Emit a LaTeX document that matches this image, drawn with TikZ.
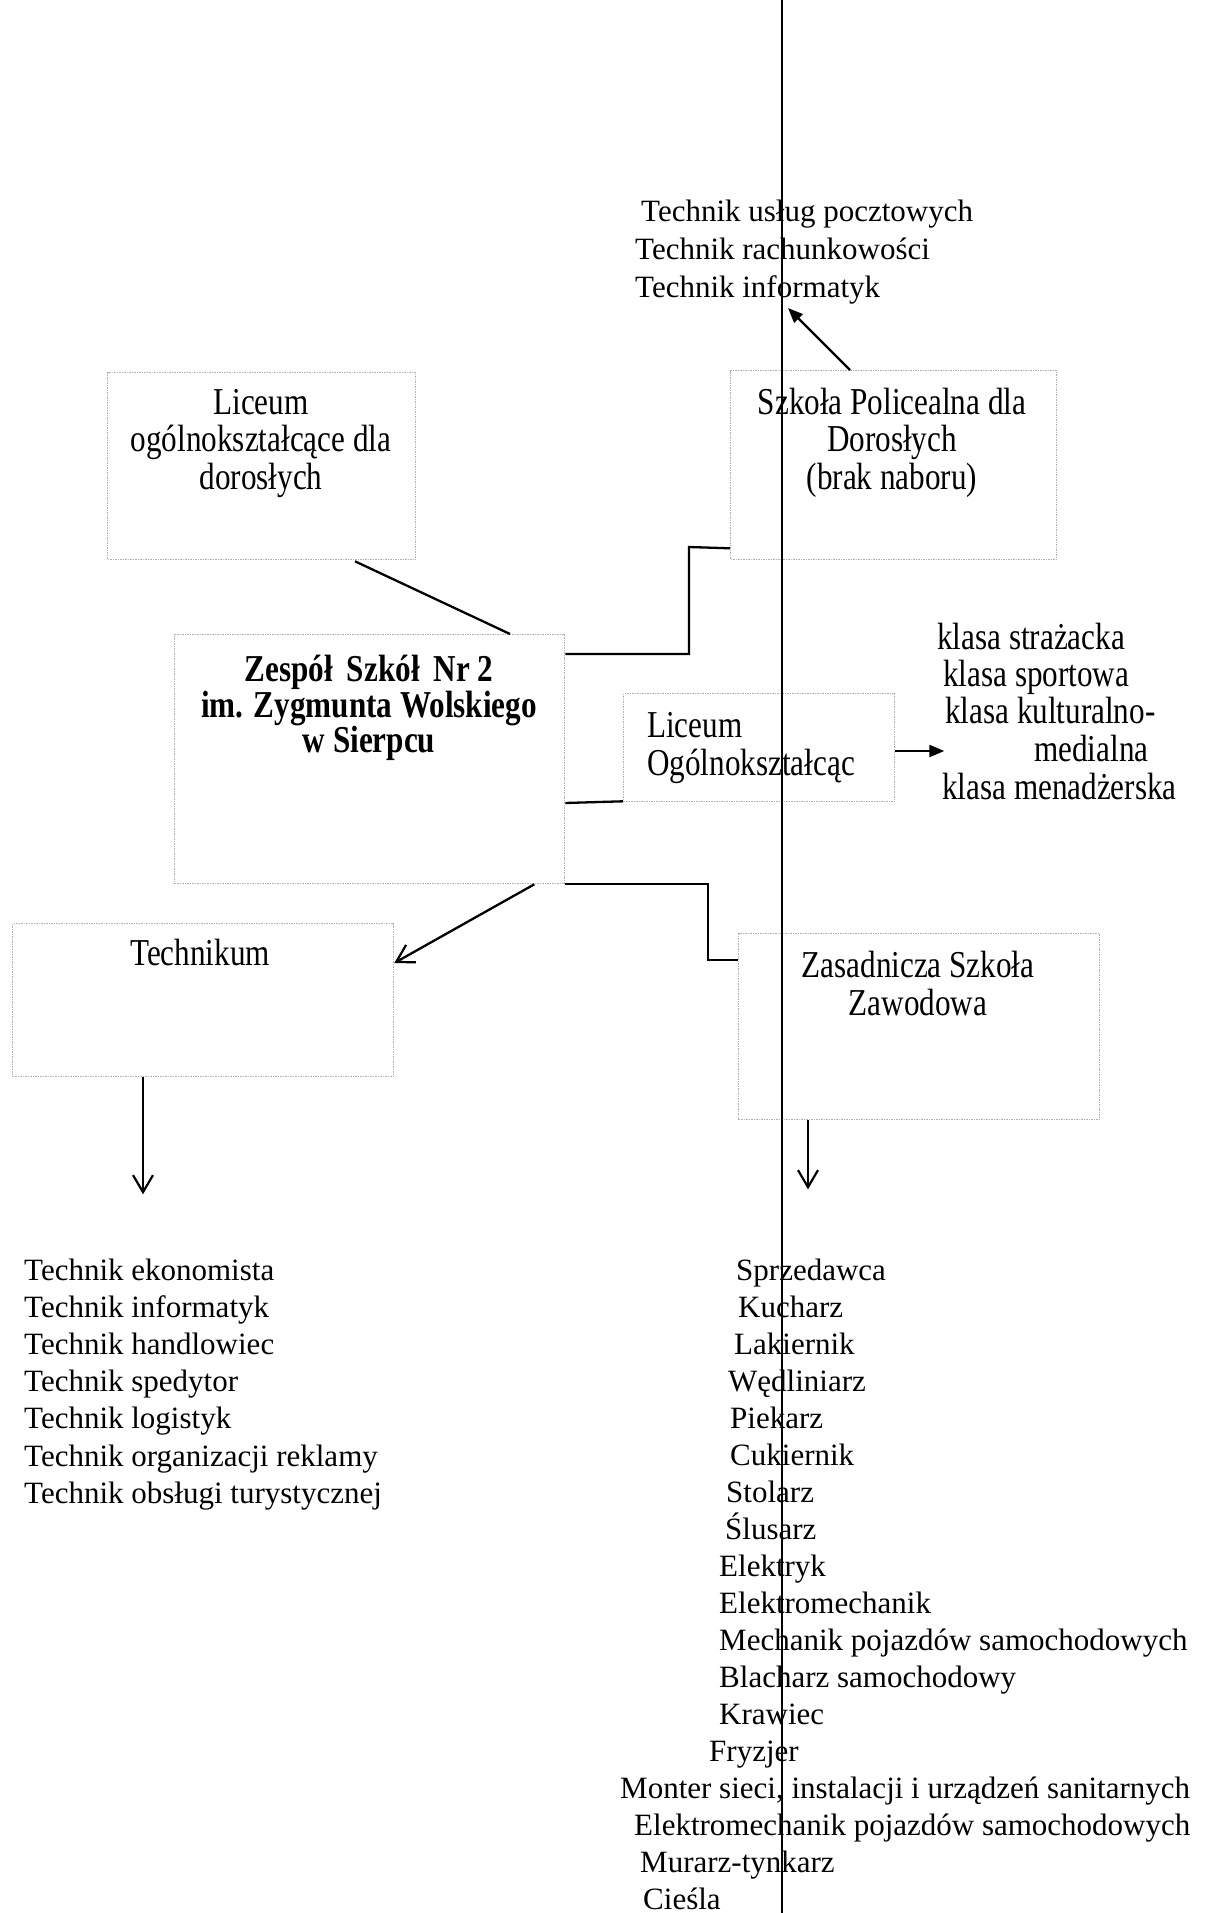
\documentclass[tikz,border=0pt]{standalone}
\usepackage{fontspec}
\setmainfont{Liberation Serif}
\newfontfamily\condfont[FakeStretch=0.82]{Liberation Serif}
\usetikzlibrary{arrows.meta,calc}
\begin{document}
\begin{tikzpicture}[x=1pt,y=-1pt,
  box/.style={draw=black!30, line width=1.3pt, dash pattern=on 1.5pt off 1pt, rectangle, inner sep=0pt, anchor=north west},
  conn/.style={line width=2.3pt},
  opentip/.style={-{Straight Barb[length=17pt,width=20pt,line width=2.2pt]}},
  filltip/.style={-{Triangle[length=15pt,width=12pt]}},
  ctext/.style={inner sep=0pt, font=\condfont\fontsize{38}{37.5}\selectfont},
  btext/.style={inner sep=0pt, font=\condfont\bfseries\fontsize{38}{37.5}\selectfont},
  ltext/.style={inner sep=0pt, anchor=base west, font=\fontsize{31}{37}\selectfont}
]
\useasboundingbox[fill=white] (0,0) rectangle (1204,1913);

% boxes
\node[box, minimum width=308pt, minimum height=187pt] (la) at (107,372) {};
\node[box, minimum width=326pt, minimum height=189pt] (sp) at (730,370) {};
\node[box, minimum width=390pt, minimum height=249pt] (zs) at (174,634) {};
\node[box, minimum width=271pt, minimum height=108pt] (lo) at (623,693) {};
\node[box, minimum width=381pt, minimum height=153pt] (te) at (12,923) {};
\node[box, minimum width=361pt, minimum height=186pt] (zz) at (738,933) {};

% box texts
\node[ctext, anchor=base] (la1) at (261,414) {Liceum};
\node[ctext, anchor=base] (la2) at (261,451.5) {ogólnokształcące dla};
\node[ctext, anchor=base] (la3) at (261,489) {dorosłych};
\node[ctext, anchor=base] (sp1) at (892,414) {Szkoła Policealna dla};
\node[ctext, anchor=base] (sp2) at (892,451.5) {Dorosłych};
\node[ctext, anchor=base] (sp3) at (892,489) {(brak naboru)};
\node[btext, anchor=base] (zs1) at (369,681) {Zespół\, Szkół\, Nr 2};
\node[btext, anchor=base] (zs2) at (369,717) {im. Zygmunta Wolskiego};
\node[btext, anchor=base] (zs3) at (369,752) {w Sierpcu};
\node[ctext, anchor=base west] (lo1) at (647,737) {Liceum};
\node[ctext, anchor=base west] (lo2) at (647,775) {Ogólnokształcąc};
\node[ctext, anchor=base] (te1) at (200,965) {Technikum};
\node[ctext, anchor=base] (zz1) at (918,977) {Zasadnicza Szkoła};
\node[ctext, anchor=base] (zz2) at (918,1015) {Zawodowa};

% klasa list
\node[ctext, anchor=base west] (k1) at (937,649) {klasa strażacka};
\node[ctext, anchor=base west] (k2) at (943,686) {klasa sportowa};
\node[ctext, anchor=base west] (k3) at (945,723) {klasa kulturalno-};
\node[ctext, anchor=base west] (k4) at (1034,761) {medialna};
\node[ctext, anchor=base west] (k5) at (942,799) {klasa menadżerska};

% top list
\node[ltext] (p1) at (641,221) {Technik usług pocztowych};
\node[ltext] (p2) at (635,259) {Technik rachunkowości};
\node[ltext] (p3) at (635,297) {Technik informatyk};

% technikum list
\foreach \t [count=\i from 0] in {Technik ekonomista,Technik informatyk,Technik handlowiec,Technik spedytor,Technik logistyk,Technik organizacji reklamy,Technik obsługi turystycznej}
  \node[ltext] (t\i) at (24,1280+37.2*\i) {\t};

% zasadnicza list
\foreach \xx/\t [count=\i from 0] in {736/Sprzedawca,738/Kucharz,734/Lakiernik,728/Wędliniarz,730/Piekarz,730/Cukiernik,726/Stolarz,725/Ślusarz,719/Elektryk,719/Elektromechanik,719/Mechanik pojazdów samochodowych,719/Blacharz samochodowy,719/Krawiec,709/Fryzjer,620/{Monter sieci, instalacji i urządzeń sanitarnych},634/Elektromechanik pojazdów samochodowych,640/Murarz-tynkarz,643/Cieśla}
  \node[ltext] (z\i) at (\xx,1280+37*\i) {\t};

% connectors
\draw[conn] ([xshift=336pt]zs.north west) -- ([xshift=248pt,yshift=-1pt]la.south west);
\draw[conn] ([yshift=-20pt]zs.north east) -| (689,547) -- ([yshift=12pt]sp.south west);
\draw[conn, filltip] ([xshift=120pt]sp.north west) -- (788,308);
\draw[conn] ([yshift=-169pt]zs.north east) -- ([yshift=1pt]lo.south west);
\draw[conn, filltip] ([yshift=-58pt]lo.north east) -- ($(lo.north east)+(49pt,-58pt)$);
\draw[conn, opentip] ([xshift=-31pt]zs.south east) -- ([yshift=-40pt]te.north east);
\draw[conn] (zs.south east) -| (708,960) -- ([yshift=-27pt]zz.north west);
\draw[conn, opentip] ([xshift=131pt]te.south west) -- ++(0,117);
\draw[conn, opentip] ([xshift=70pt]zz.south west) -- ++(0,69);

% vertical line
\coordinate (vtop) at (782,0);
\coordinate (vbot) at (782,1913);
\draw[line width=2pt] (vtop) -- (vbot);
\end{tikzpicture}
\end{document}
